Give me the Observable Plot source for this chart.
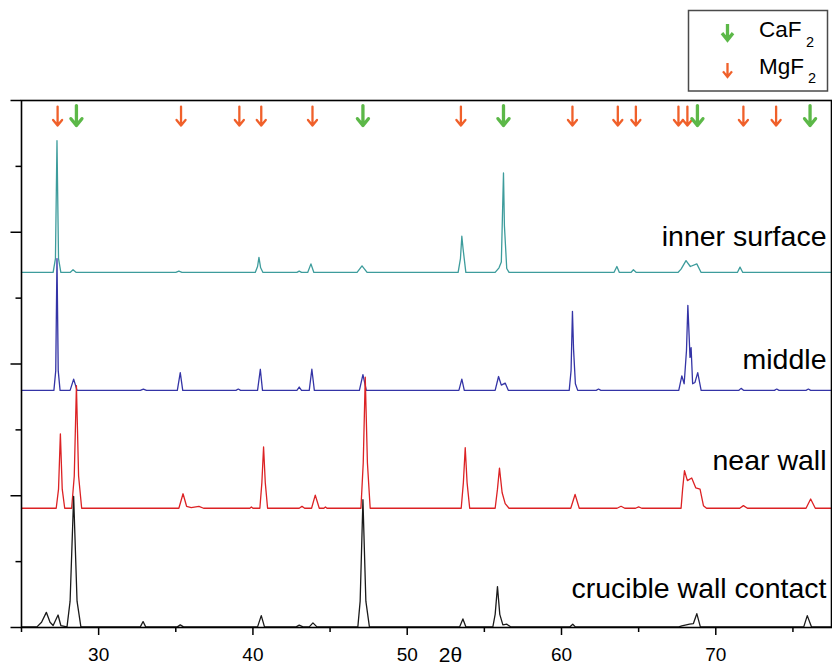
<!DOCTYPE html>
<html>
<head>
<meta charset="utf-8">
<script src="https://cdn.jsdelivr.net/npm/d3@7"></script>
<script src="https://cdn.jsdelivr.net/npm/@observablehq/plot@0.6"></script>
<style>
  body { margin: 0; background: #fff; font-family: "Liberation Sans", Arial, sans-serif; }
  #wrap { position: relative; width: 832px; height: 667px; overflow: hidden; }
  #legend { position: absolute; left: 0; top: 0; pointer-events: none; }
</style>
</head>
<body>
<div id="wrap"></div>
<script>
// ---- data (2θ, stacked intensity in axis units) ----
const innerSurface = [[25,5.39],[27.05,5.39],[27.2,5.6],[27.3,7.39],[27.4,5.6],[27.55,5.39],[28.15,5.39],[28.34,5.43],[28.55,5.39],[35.0,5.39],[35.2,5.41],[35.4,5.39],[40.15,5.39],[40.3,5.48],[40.39,5.62],[40.5,5.46],[40.65,5.39],[42.85,5.39],[43.0,5.41],[43.15,5.39],[43.55,5.39],[43.76,5.52],[43.95,5.39],[46.75,5.39],[47.07,5.49],[47.4,5.39],[53.3,5.39],[53.45,5.6],[53.54,5.94],[53.62,5.75],[53.8,5.39],[55.7,5.39],[55.95,5.46],[56.1,5.55],[56.24,6.90],[56.3,6.10],[56.45,5.45],[56.6,5.39],[63.4,5.39],[63.59,5.48],[63.75,5.39],[64.5,5.39],[64.66,5.43],[64.85,5.39],[67.55,5.39],[67.75,5.44],[68.07,5.57],[68.35,5.48],[68.77,5.52],[69.05,5.39],[71.4,5.39],[71.57,5.47],[71.75,5.39],[77.5,5.39]];
const middle = [[25,3.6],[27.1,3.6],[27.22,3.9],[27.3,5.6],[27.38,3.9],[27.5,3.6],[28.15,3.6],[28.38,3.77],[28.6,3.6],[32.7,3.6],[32.9,3.62],[33.1,3.6],[35.1,3.6],[35.29,3.87],[35.45,3.6],[38.9,3.6],[39.05,3.62],[39.2,3.6],[40.3,3.6],[40.48,3.92],[40.62,3.6],[42.85,3.6],[43.0,3.65],[43.15,3.6],[43.65,3.6],[43.82,3.92],[43.98,3.6],[46.9,3.6],[47.13,3.84],[47.35,3.6],[53.35,3.6],[53.54,3.77],[53.7,3.6],[55.7,3.6],[55.92,3.81],[56.1,3.68],[56.35,3.71],[56.55,3.6],[60.5,3.6],[60.62,3.9],[60.71,4.80],[60.78,4.23],[60.9,3.7],[61.05,3.6],[62.25,3.6],[62.4,3.62],[62.55,3.6],[67.6,3.6],[67.8,3.82],[67.95,3.7],[68.1,4.2],[68.19,4.89],[68.33,4.1],[68.4,4.25],[68.5,3.7],[68.65,3.72],[68.83,3.87],[69.05,3.6],[71.5,3.6],[71.64,3.63],[71.8,3.6],[73.8,3.6],[73.95,3.62],[74.1,3.6],[75.85,3.6],[76.0,3.62],[76.15,3.6],[77.5,3.6]];
const nearWall = [[25,1.81],[27.25,1.81],[27.4,2.1],[27.52,2.94],[27.64,2.1],[27.8,1.81],[28.25,1.81],[28.42,2.3],[28.56,3.67],[28.7,2.3],[28.9,1.81],[35.2,1.81],[35.47,2.03],[35.7,1.84],[36.0,1.82],[36.5,1.84],[36.8,1.81],[39.8,1.81],[39.9,1.83],[40.0,1.81],[40.45,1.81],[40.58,2.2],[40.69,2.74],[40.8,2.2],[40.95,1.81],[43.0,1.81],[43.18,1.84],[43.35,1.81],[43.8,1.81],[44.04,2.01],[44.3,1.81],[44.6,1.81],[44.7,1.83],[44.8,1.81],[47.0,1.81],[47.15,2.5],[47.28,3.80],[47.42,2.5],[47.6,1.81],[53.5,1.81],[53.64,2.2],[53.76,2.73],[53.88,2.2],[54.05,1.81],[55.7,1.81],[55.85,2.1],[55.98,2.42],[56.15,2.05],[56.35,1.88],[56.6,1.81],[60.6,1.81],[60.88,2.02],[61.15,1.81],[63.6,1.81],[63.86,1.84],[64.1,1.81],[64.8,1.81],[65.0,1.83],[65.2,1.81],[67.75,1.81],[67.85,2.1],[67.97,2.38],[68.16,2.23],[68.44,2.27],[68.7,2.12],[68.98,2.10],[69.2,1.85],[69.4,1.81],[71.55,1.81],[71.79,1.85],[72.05,1.81],[75.85,1.81],[76.15,1.95],[76.45,1.81],[77.5,1.81]];
const crucibleWall = [[25,0.01],[26.0,0.01],[26.3,0.08],[26.61,0.23],[26.85,0.08],[27.05,0.03],[27.37,0.19],[27.55,0.03],[27.95,0.01],[28.15,0.4],[28.38,1.99],[28.6,0.4],[28.85,0.01],[32.7,0.01],[32.88,0.09],[33.05,0.01],[35.1,0.01],[35.29,0.04],[35.5,0.01],[40.3,0.01],[40.54,0.18],[40.75,0.01],[42.8,0.01],[43.0,0.035],[43.25,0.01],[43.65,0.01],[43.89,0.07],[44.15,0.01],[46.8,0.01],[46.95,0.4],[47.13,1.94],[47.32,0.4],[47.55,0.01],[53.4,0.01],[53.61,0.13],[53.8,0.01],[55.55,0.01],[55.7,0.2],[55.85,0.62],[56.0,0.2],[56.2,0.04],[56.46,0.05],[56.7,0.01],[60.55,0.01],[60.73,0.05],[60.9,0.01],[67.6,0.01],[67.8,0.025],[68.3,0.05],[68.55,0.06],[68.77,0.21],[69.0,0.01],[75.7,0.01],[75.93,0.18],[76.2,0.01],[77.5,0.01]];

const seriesNames = ["inner surface", "middle", "near wall", "crucible wall contact"];
const labelY = [5.79, 3.925, 2.39, 0.451];

const mgf2Peaks = [27.34, 35.34, 39.12, 40.54, 43.86, 53.48, 60.71, 63.65, 64.82, 67.58, 68.16, 71.79, 73.91];
const caf2Peaks = [28.56, 47.13, 56.24, 68.81, 76.11];

const xMajorTicks = [30, 40, 50, 60, 70];
const xMinorTicks = [25, 35, 45, 55, 65, 75];
const yMajorTicks = [0, 2, 4, 6, 8];
const yMinorTicks = [1, 3, 5, 7];
const xLabel = "2θ";

// ---- styles ----
const colors = ["#3d9c9c", "#3434a6", "#dc2224", "#1a1a1a"];
const orange = "#f0602a";
const green = "#5cb848";
const font = "Liberation Sans, Arial, sans-serif";

// downward arrow shape with a fixed-size open head (r = half head width)
const arrowShape = {
  draw(context, l, r) {
    context.moveTo(0, 0);
    context.lineTo(0, -l);
    context.moveTo(-r, -l + r * 1.25);
    context.lineTo(0, -l);
    context.lineTo(r, -l + r * 1.25);
  }
};

const series = [innerSurface, middle, nearWall, crucibleWall];
const labels = seriesNames.map((name, i) => ({name, y: labelY[i]}));

const plot = Plot.plot({
  width: 832,
  height: 667,
  marginLeft: 21,
  marginRight: 1,
  marginTop: 100,
  marginBottom: 40,
  x: {domain: [25, 77.5]},
  y: {domain: [0, 8]},
  style: {fontFamily: font, background: "white", color: "#000", overflow: "visible"},
  marks: [
    ...series.map((s, i) => Plot.line(s, {x: d => d[0], y: d => d[1], stroke: colors[i], strokeWidth: 1.3})),
    Plot.vector(mgf2Peaks, {x: d => d, y: 7.62, length: 19, rotate: 180, anchor: "end", shape: arrowShape, r: 4.5, stroke: orange, strokeWidth: 2.3}),
    Plot.vector(caf2Peaks, {x: d => d, y: 7.62, length: 20, rotate: 180, anchor: "end", shape: arrowShape, r: 5.5, stroke: green, strokeWidth: 3.3}),
    Plot.text(labels, {x: 77.5, y: "y", text: "name", dx: -5, textAnchor: "end", lineAnchor: "bottom", fontSize: 28.5, fill: "#000"}),
    Plot.frame({stroke: "#000", strokeWidth: 1.6}),
    Plot.axisX(xMajorTicks, {tickSize: 8, tickPadding: 12, fontSize: 19, label: null, strokeWidth: 1.5}),
    Plot.axisX(xMinorTicks, {tickSize: 5, tickFormat: () => "", label: null, strokeWidth: 1.5}),
    Plot.axisY(yMajorTicks, {tickSize: 10.5, tickFormat: () => "", label: null, strokeWidth: 1.5}),
    Plot.axisY(yMinorTicks, {tickSize: 5.5, tickFormat: () => "", label: null, strokeWidth: 1.5}),
    Plot.text([xLabel], {x: 52.8, frameAnchor: "bottom", dy: 34, lineAnchor: "bottom", fontSize: 21, fill: "#000"})
  ]
});
document.getElementById("wrap").appendChild(plot);

// ---- legend (overlay) ----
const ns = "http://www.w3.org/2000/svg";
const leg = document.createElementNS(ns, "svg");
leg.setAttribute("id", "legend");
leg.setAttribute("width", 832);
leg.setAttribute("height", 100);
const legendItems = [
  {label: "CaF", sub: "2", color: green, w: 3.3, y0: 24, y1: 40, wing: 5.5, base: 37, subX: 806},
  {label: "MgF", sub: "2", color: orange, w: 2.3, y0: 63, y1: 77, wing: 4.5, base: 73.5, subX: 808}
];
let html = `<rect x="688.5" y="10.5" width="139" height="80.5" fill="white" stroke="#4a4a4a" stroke-width="1.5"/>`;
for (const it of legendItems) {
  html += `<path d="M727.5,${it.y0}V${it.y1}M${727.5 - it.wing},${it.y1 - it.wing * 1.25}L727.5,${it.y1}L${727.5 + it.wing},${it.y1 - it.wing * 1.25}" fill="none" stroke="${it.color}" stroke-width="${it.w}"/>`;
  html += `<text x="759" y="${it.base}" font-family="${font}" font-size="22.5" fill="#000">${it.label}</text>`;
  html += `<text x="${it.subX}" y="${it.base + 9.5}" font-family="${font}" font-size="14.5" fill="#000">${it.sub}</text>`;
}
leg.innerHTML = html;
document.getElementById("wrap").appendChild(leg);
</script>
</body>
</html>
